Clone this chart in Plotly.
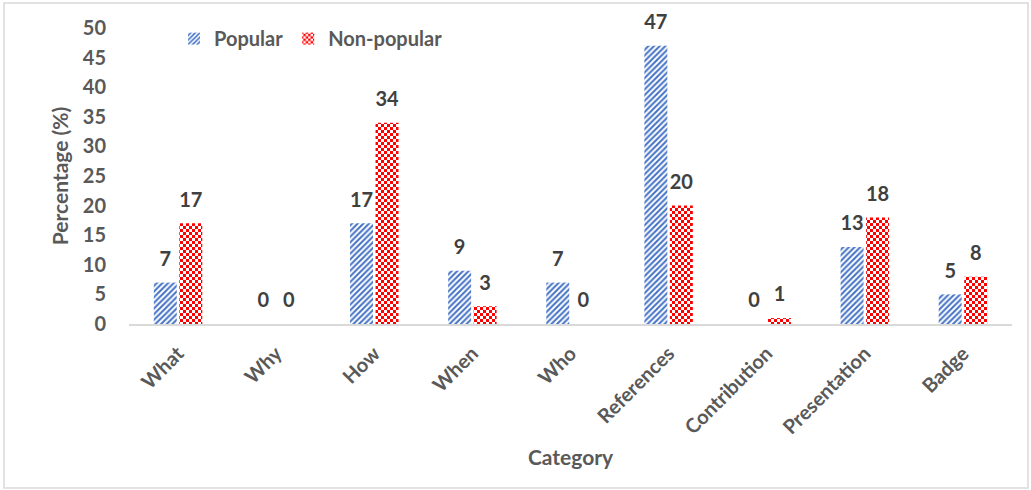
import plotly.graph_objects as go

categories = ["What", "Why", "How", "When", "Who", "References", "Contribution", "Presentation", "Badge"]
popular = [7, 0, 17, 9, 7, 47, 0, 13, 5]
non_popular = [17, 0, 34, 3, 0, 20, 1, 18, 8]
y_ticks = [0, 5, 10, 15, 20, 25, 30, 35, 40, 45, 50]

FONT = "Lato"
GREY = "#595959"
LABEL = "#404040"

fig = go.Figure()
fig.add_trace(go.Bar(
    x=categories, y=popular, name="Popular", offsetgroup="p", alignmentgroup="g",
    marker=dict(color="#ffffff",
                line=dict(color="#4a78c0", width=0),
                pattern=dict(shape="/", fgcolor="#4472c4", bgcolor="#ffffff",
                             size=4, solidity=0.5, fgopacity=1, fillmode="replace")),
))
fig.add_trace(go.Bar(
    x=categories, y=non_popular, name="Non-popular", offsetgroup="n", alignmentgroup="g",
    marker=dict(color="#ff0000",
                line=dict(color="#ff0000", width=0),
                pattern=dict(path="M0,0H3V3H0ZM3,3H6V6H3Z", fgcolor="#ff0000", bgcolor="#ffffff",
                             size=6, fgopacity=1, fillmode="replace")),
))
# value labels (offset above bars like the original)
for vals, grp in ((popular, "p"), (non_popular, "n")):
    fig.add_trace(go.Scatter(
        x=categories, y=vals, mode="markers+text", offsetgroup=grp, alignmentgroup="g",
        text=[str(v) for v in vals], textposition="top center",
        textfont=dict(family=FONT, size=20, color=LABEL, weight="bold"),
        marker=dict(size=17, opacity=0), cliponaxis=False, showlegend=False, hoverinfo="skip",
    ))

L, R, T, B = 129, 19, 28, 166
W, H = 1031, 490
pw, ph = W - L - R, H - T - B

fig.update_layout(
    width=W, height=H,
    margin=dict(l=L, r=R, t=T, b=B),
    paper_bgcolor="white", plot_bgcolor="white",
    barmode="group", bargap=0.48, bargroupgap=0.1,
    scattermode="group", scattergap=0.48,
    font=dict(family=FONT, color=GREY),
    showlegend=True,
    legend=dict(orientation="h", x=0.051, y=1.03, yanchor="top", xanchor="left",
                font=dict(family=FONT, size=20, color=GREY, weight="bold"),
                bgcolor="rgba(0,0,0,0)", itemwidth=30),
    xaxis=dict(
        title=dict(text="Category", font=dict(family=FONT, size=21, color=GREY, weight="bold"), standoff=13),
        tickangle=-45, tickfont=dict(family=FONT, size=20, color=GREY, weight="bold"),
        ticklabelstandoff=8,
        showline=True, linecolor="#d9d9d9", linewidth=2, ticks="", showgrid=False,
    ),
    yaxis=dict(
        title=dict(text="Percentage (%)", font=dict(family=FONT, size=21, color=GREY, weight="bold"), standoff=8),
        range=[0, 50], tickvals=y_ticks, showgrid=False, zeroline=False, showline=False,
        ticklabelstandoff=22,
        tickfont=dict(family=FONT, size=20, color=GREY, weight="bold"),
    ),
    shapes=[dict(type="rect", xref="paper", yref="paper",
                 x0=(4 - L) / pw, x1=(1028 - L) / pw,
                 y0=(H - B - 488) / ph, y1=(H - B - 3) / ph,
                 line=dict(color="#d9d9d9", width=1.5), fillcolor="rgba(0,0,0,0)", layer="below")],
)

fig.write_html("out.html")
